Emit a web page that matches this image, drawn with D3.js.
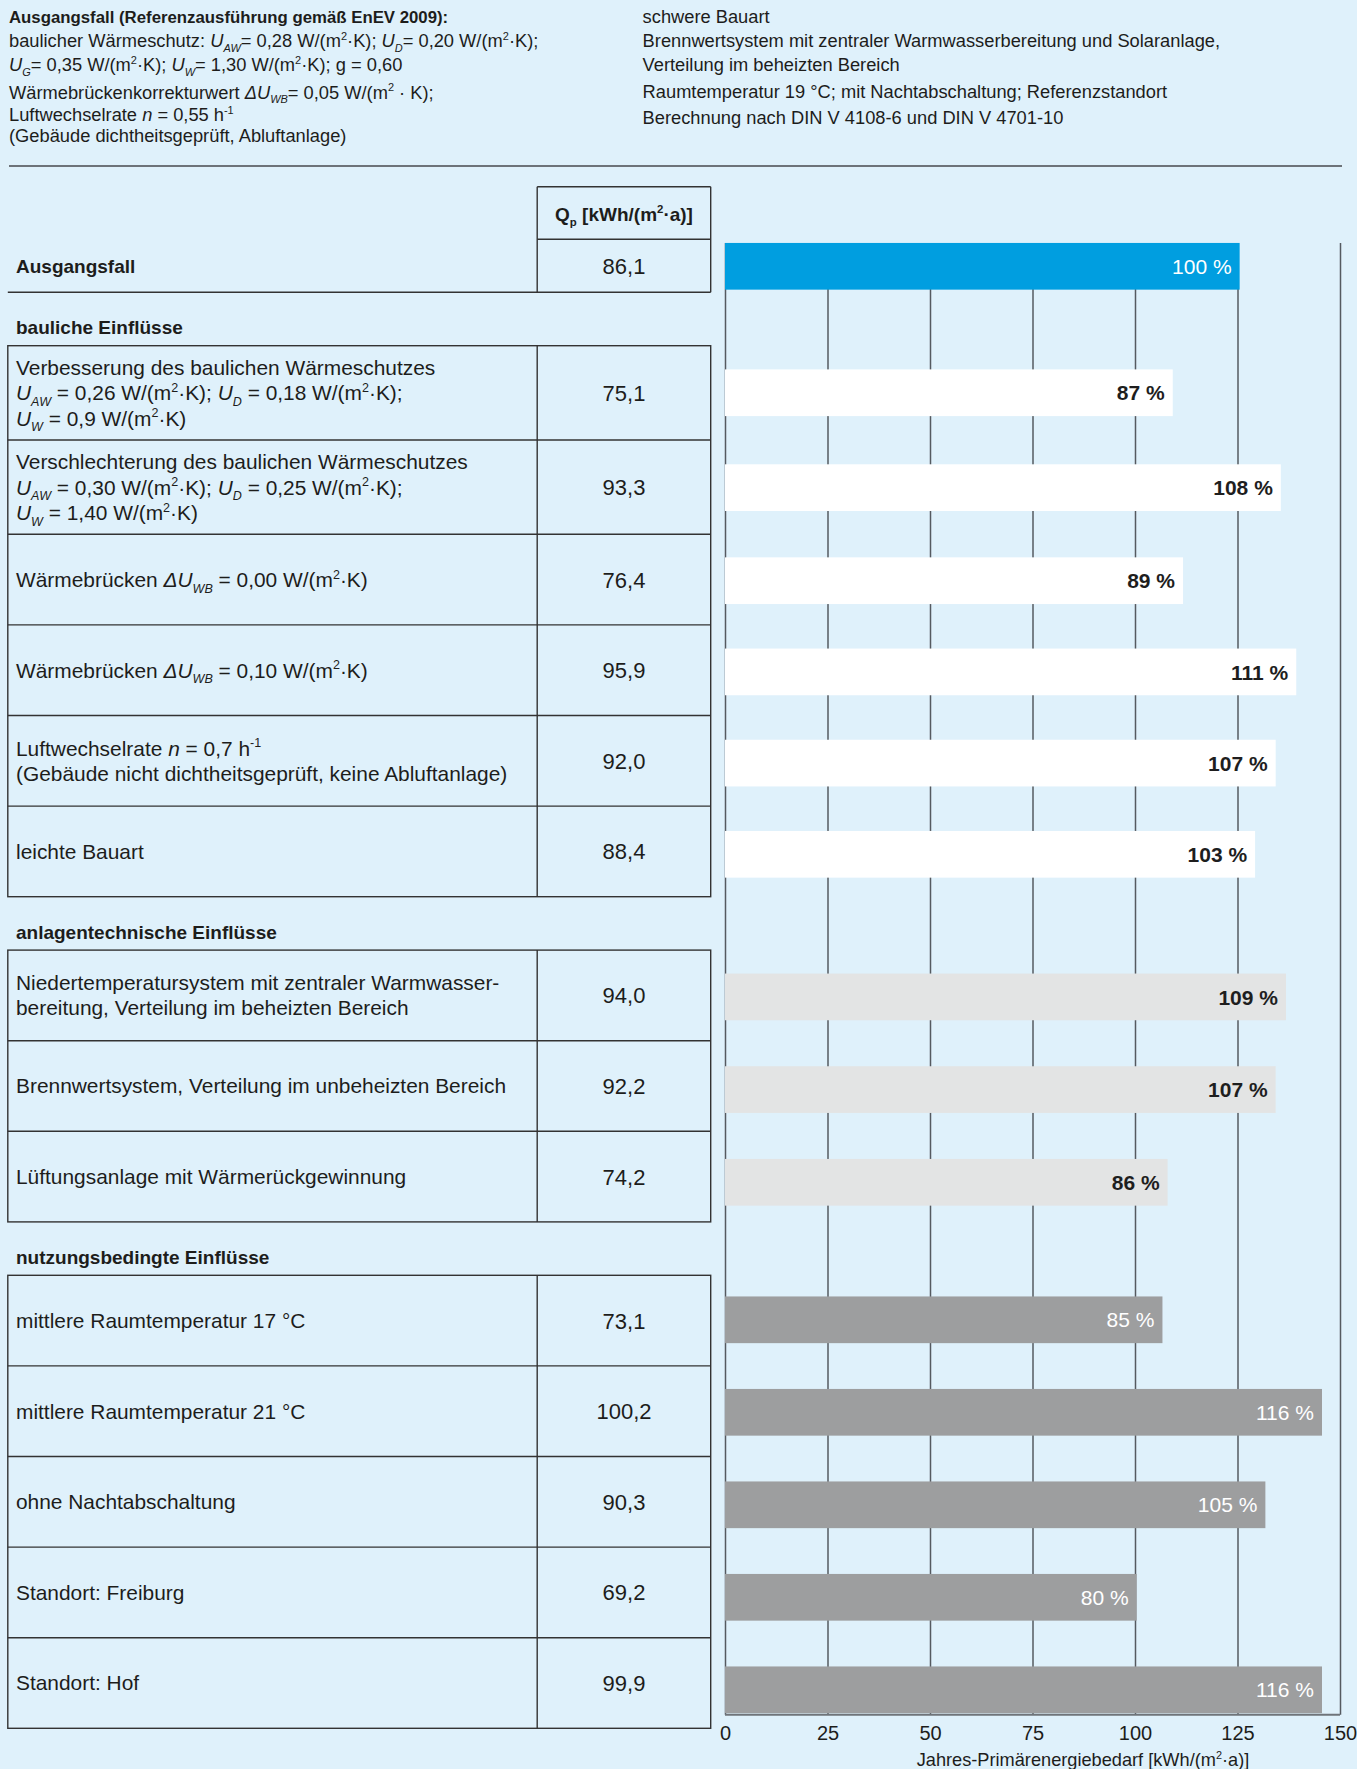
<!DOCTYPE html>
<html>
<head>
<meta charset="utf-8">
<script src="https://cdn.jsdelivr.net/npm/d3@7"></script>
<style>
  body { margin: 0; background: #dff1fb; }
  svg { display: block; font-family: "Liberation Sans", Arial, sans-serif; }
  text { white-space: pre; }
</style>
</head>
<body>
<svg id="chart" width="1357" height="1769"></svg>
<script>
// Kopftext (Markup: *kursiv*, _{tief}, ^{hoch})
const introLeft = [
  'Ausgangsfall (Referenzausführung gemäß EnEV 2009):',
  'baulicher Wärmeschutz: *U*_{AW}= 0,28 W/(m^{2}·K); *U*_{D}= 0,20 W/(m^{2}·K);',
  '*U*_{G}= 0,35 W/(m^{2}·K); *U*_{W}= 1,30 W/(m^{2}·K); g = 0,60',
  'Wärmebrückenkorrekturwert *ΔU*_{WB}= 0,05 W/(m^{2} · K);',
  'Luftwechselrate *n* = 0,55 h^{-1}',
  '(Gebäude dichtheitsgeprüft, Abluftanlage)'
]
const introRight = [
  'schwere Bauart',
  'Brennwertsystem mit zentraler Warmwasserbereitung und Solaranlage,',
  'Verteilung im beheizten Bereich',
  'Raumtemperatur 19 °C; mit Nachtabschaltung; Referenzstandort',
  'Berechnung nach DIN V 4108-6 und DIN V 4701-10'
]

// Ausgangsfall
const baseLabel = 'Ausgangsfall'
const baseQp = '86,1'
const basePct = 100

// Einflüsse
const groupTitles = ['bauliche Einflüsse', 'anlagentechnische Einflüsse', 'nutzungsbedingte Einflüsse']
const rowGroups = [0, 0, 0, 0, 0, 0, 1, 1, 1, 2, 2, 2, 2, 2]
const rowLabels = [
  ['Verbesserung des baulichen Wärmeschutzes', '*U*_{AW} = 0,26 W/(m^{2}·K); *U*_{D} = 0,18 W/(m^{2}·K);', '*U*_{W} = 0,9 W/(m^{2}·K)'],
  ['Verschlechterung des baulichen Wärmeschutzes', '*U*_{AW} = 0,30 W/(m^{2}·K); *U*_{D} = 0,25 W/(m^{2}·K);', '*U*_{W} = 1,40 W/(m^{2}·K)'],
  ['Wärmebrücken *ΔU*_{WB} = 0,00 W/(m^{2}·K)'],
  ['Wärmebrücken *ΔU*_{WB} = 0,10 W/(m^{2}·K)'],
  ['Luftwechselrate *n* = 0,7 h^{-1}', '(Gebäude nicht dichtheitsgeprüft, keine Abluftanlage)'],
  ['leichte Bauart'],
  ['Niedertemperatursystem mit zentraler Warmwasser-', 'bereitung, Verteilung im beheizten Bereich'],
  ['Brennwertsystem, Verteilung im unbeheizten Bereich'],
  ['Lüftungsanlage mit Wärmerückgewinnung'],
  ['mittlere Raumtemperatur 17 °C'],
  ['mittlere Raumtemperatur 21 °C'],
  ['ohne Nachtabschaltung'],
  ['Standort: Freiburg'],
  ['Standort: Hof']
]
const qpValues = ['75,1', '93,3', '76,4', '95,9', '92,0', '88,4', '94,0', '92,2', '74,2', '73,1', '100,2', '90,3', '69,2', '99,9']
const pctValues = [87, 108, 89, 111, 107, 103, 109, 107, 86, 85, 116, 105, 80, 116]

const qpHeader = 'Q_{p} [kWh/(m^{2}·a)]'
const xTicks = [0, 25, 50, 75, 100, 125, 150]
const xTitle = 'Jahres-Primärenergiebedarf [kWh/(m^{2}·a)]'

const W = 1357, H = 1769
const ink = '#1d1d1b'
const svg = d3.select('#chart')
svg.append('rect').attr('width', W).attr('height', H).attr('fill', '#dff1fb')

// Text mit Hoch-/Tiefstellung
function rich(t, str, fs) {
  const parts = str.split(/(\*[^*]+\*|_\{[^}]*\}|\^\{[^}]*\})/).filter(s => s.length)
  let shift = 0, prevItalic = false
  parts.forEach(p => {
    let txt = p, italic = false, off = 0, size = null
    if (p.startsWith('*')) { txt = p.slice(1, -1); italic = true }
    else if (p.startsWith('_{')) { txt = p.slice(2, -1); italic = prevItalic; off = 0.27 * fs; size = 0.6 * fs }
    else if (p.startsWith('^{')) { txt = p.slice(2, -1); off = -0.4 * fs; size = 0.6 * fs }
    const ts = t.append('tspan').text(txt)
    if (off - shift !== 0) ts.attr('dy', off - shift)
    shift = off
    if (italic) ts.style('font-style', 'italic')
    if (size) ts.style('font-size', size + 'px')
    prevItalic = italic
  })
}

// Kopf
const leftBase = [23, 47, 71, 98.5, 121, 141.5]
introLeft.forEach((s, i) => {
  const fs = i === 0 ? 16.8 : 18.3
  const t = svg.append('text').attr('x', 9).attr('y', leftBase[i]).attr('fill', ink)
    .style('font-size', fs + 'px')
    .style('font-weight', i === 0 ? 'bold' : 'normal')
  rich(t, s, fs)
})
const rightBase = [23, 46.5, 70.5, 98, 124]
introRight.forEach((s, i) => {
  const t = svg.append('text').attr('x', 642.6).attr('y', rightBase[i]).attr('fill', ink)
    .style('font-size', '18.3px')
  rich(t, s, 18.3)
})
svg.append('line').attr('x1', 9).attr('x2', 1342).attr('y1', 166).attr('y2', 166)
  .attr('stroke', '#6d7379').attr('stroke-width', 2)

// Tabellengeometrie
const tableLeft = 7.8, colDiv = 537.2, tableRight = 710.7, textX = 16, valueX = 624
const headTop = 186.7, baseTop = 239.3, baseH = 53
const gap = 53.4
const lineCol = '#333333', lineW = 1.4
const fsRow = 20.9, fsVal = 22, fsHead = 19

let cursor = baseTop + baseH
const rows = []
const heads = []
groupTitles.forEach((title, gi) => {
  cursor += gap
  const head = { title, top: cursor }
  let k = 0
  rowLabels.forEach((lines, i) => {
    if (rowGroups[i] !== gi) return
    const h = lines.length === 3 ? 94.3 : 90.6
    rows.push({ lines, qp: qpValues[i], pct: pctValues[i], group: gi + 1, k: k++, top: cursor, h })
    cursor += h
  })
  head.bottom = cursor
  heads.push(head)
})

const table = svg.append('g')
function hline(x1, x2, y) {
  table.append('line').attr('x1', x1).attr('x2', x2).attr('y1', y).attr('y2', y)
    .attr('stroke', lineCol).attr('stroke-width', lineW)
}
function vline(x, y1, y2) {
  table.append('line').attr('x1', x).attr('x2', x).attr('y1', y1).attr('y2', y2)
    .attr('stroke', lineCol).attr('stroke-width', lineW)
}

// Kopfzelle Q_p + Ausgangsfall
hline(colDiv, tableRight, headTop)
hline(colDiv, tableRight, baseTop)
hline(tableLeft, tableRight, baseTop + baseH)
vline(colDiv, headTop, baseTop + baseH)
vline(tableRight, headTop, baseTop + baseH)
const qh = svg.append('text').attr('x', valueX).attr('y', 220.5).attr('text-anchor', 'middle')
  .attr('fill', ink).style('font-size', fsHead + 'px').style('font-weight', 'bold')
rich(qh, qpHeader, fsHead)

const baseMid = baseTop + baseH / 2
svg.append('text').attr('x', textX).attr('y', baseMid + 7).attr('fill', ink)
  .style('font-size', fsHead + 'px').style('font-weight', 'bold').text(baseLabel)
svg.append('text').attr('x', valueX).attr('y', baseMid + 8).attr('text-anchor', 'middle')
  .attr('fill', ink).style('font-size', fsVal + 'px').text(baseQp)

// Gruppen
heads.forEach(g => {
  svg.append('text').attr('x', textX).attr('y', g.top - 11.4).attr('fill', ink)
    .style('font-size', fsHead + 'px').style('font-weight', 'bold').text(g.title)
  table.append('rect').attr('x', tableLeft).attr('y', g.top)
    .attr('width', tableRight - tableLeft).attr('height', g.bottom - g.top)
    .attr('fill', 'none').attr('stroke', lineCol).attr('stroke-width', lineW)
  vline(colDiv, g.top, g.bottom)
})
rows.forEach(r => {
  if (heads.every(g => g.top !== r.top)) hline(tableLeft, tableRight, r.top)
  const mid = r.top + r.h / 2
  const n = r.lines.length
  const step = n === 3 ? 25.5 : 25
  r.lines.forEach((s, i) => {
    const t = svg.append('text').attr('x', textX).attr('y', mid + (i - (n - 1) / 2) * step + 7.4)
      .attr('fill', ink).style('font-size', fsRow + 'px')
    rich(t, s, fsRow)
  })
  svg.append('text').attr('x', valueX).attr('y', mid + 8).attr('text-anchor', 'middle')
    .attr('fill', ink).style('font-size', fsVal + 'px').text(r.qp)
})

// Diagramm
const x0 = 725, x1 = 1340, axisY = 1714.7
const xAxisScale = d3.scaleLinear().domain([0, 150]).range([x0, x1])
// Balken im Original: knapp 120 % entspricht dem Achsenende 150
const barScale = d3.scaleLinear().domain([0, 119.5]).range([x0, x1])
const barH = 46.7
// die Balken haben im Original einen etwas größeren Abstand als die Tabellenzeilen
const groupShift = [-0.1, 1.5, -0.8]
const groupDrift = [0.6, 2.1, 1.9]

const bars = [{ pct: basePct, group: 0, mid: baseMid + 0.5 }]
  .concat(rows.map(r => ({
    pct: r.pct,
    group: r.group,
    mid: r.top + r.h / 2 + groupShift[r.group - 1] + r.k * groupDrift[r.group - 1]
  })))

const barFill = d3.scaleOrdinal().domain([0, 1, 2, 3]).range(['#009ee0', '#ffffff', '#e3e4e4', '#9d9e9f'])
const labelFill = d3.scaleOrdinal().domain([0, 1, 2, 3]).range(['#ffffff', '#1e1e1e', '#1e1e1e', '#ffffff'])

const gridTop = bars[0].mid - barH / 2
const xAxis = d3.axisBottom(xAxisScale)
  .tickValues(xTicks)
  .tickSize(-(axisY - gridTop))
  .tickSizeOuter(0)
  .tickPadding(11)
const axisG = svg.append('g').attr('transform', `translate(0, ${axisY})`).call(xAxis)
axisG.select('.domain').remove()
axisG.selectAll('.tick line').attr('stroke', '#555a60').attr('stroke-width', 1.5)
axisG.selectAll('.tick text').attr('fill', ink)
  .style('font-size', '20px').style('font-family', '"Liberation Sans", Arial, sans-serif')

svg.append('g').selectAll('rect')
  .data(bars)
  .enter()
  .append('rect')
  .attr('x', x0)
  .attr('y', d => d.mid - barH / 2)
  .attr('width', d => barScale(d.pct) - x0)
  .attr('height', barH)
  .attr('fill', d => barFill(d.group))

svg.append('g').selectAll('text')
  .data(bars)
  .enter()
  .append('text')
  .attr('x', d => barScale(d.pct) - 8)
  .attr('y', d => d.mid + 7.6)
  .attr('text-anchor', 'end')
  .attr('fill', d => labelFill(d.group))
  .style('font-size', '21px')
  .style('font-weight', d => (d.group === 1 || d.group === 2) ? 'bold' : 'normal')
  .text(d => d.pct + ' %')

svg.append('line')
  .attr('x1', xAxisScale.range()[0]).attr('x2', xAxisScale.range()[1])
  .attr('y1', axisY).attr('y2', axisY)
  .attr('stroke', '#6f747a').attr('stroke-width', 2)

const tt = svg.append('text').attr('x', 1083).attr('y', 1766).attr('text-anchor', 'middle')
  .attr('fill', ink).style('font-size', '18.2px')
rich(tt, xTitle, 18.2)
</script>
</body>
</html>
